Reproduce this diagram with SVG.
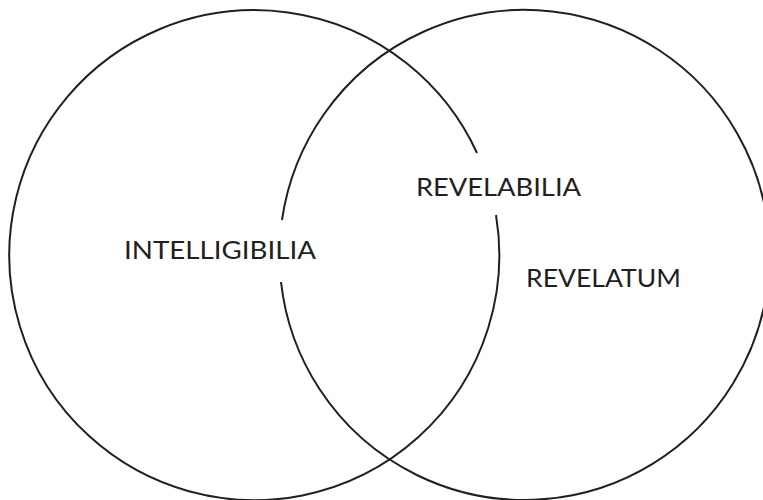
<svg xmlns="http://www.w3.org/2000/svg" width="763" height="500" viewBox="0 0 763 500">
<style>
.c{fill:none;stroke:#231f20;stroke-width:2}
.t{font-family:Lato,"Open Sans","Liberation Sans",sans-serif;font-size:25px;fill:#231f20}
</style>
<rect width="763" height="500" fill="#fff"/>
<g id="connectors"></g>
<g id="intelligibilia">
<path class="c" d="M496,215 A245,245 0 1 1 477,153"/>
<text class="t" x="124" y="259" textLength="192" lengthAdjust="spacingAndGlyphs">INTELLIGIBILIA</text>
</g>
<g id="revelatum">
<path class="c" d="M282,220 A245,245 0 1 1 281,282"/>
<text class="t" x="526" y="287" textLength="155" lengthAdjust="spacingAndGlyphs">REVELATUM</text>
</g>
<g id="revelabilia">
<text class="t" x="416" y="196" textLength="165" lengthAdjust="spacingAndGlyphs">REVELABILIA</text>
</g>
</svg>
